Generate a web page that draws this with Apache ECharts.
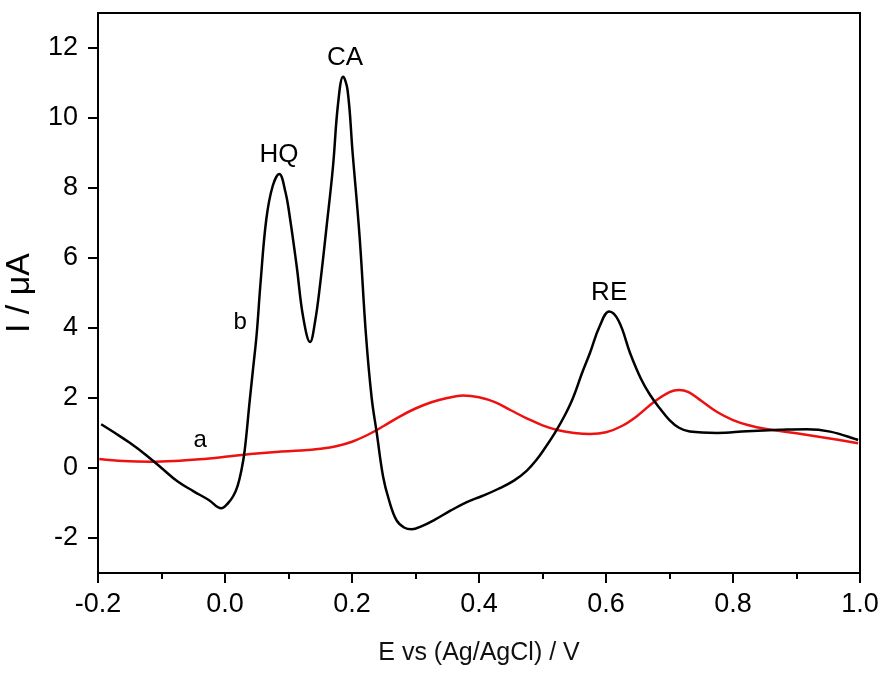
<!DOCTYPE html>
<html>
<head>
<meta charset="utf-8">
<title>DPV</title>
<script src="https://cdn.jsdelivr.net/npm/echarts@6/dist/echarts.min.js"></script>
<style>
  html, body { margin: 0; padding: 0; background: #fff; }
  #chart { width: 884px; height: 674px; }
</style>
</head>
<body>
<div id="chart"></div>
<script>
// curve b (black): E / V, I / uA
const curveB = [
  [-0.195, 1.25], [-0.175, 1.02], [-0.15, 0.72], [-0.125, 0.38], [-0.1, 0.0],
  [-0.075, -0.38], [-0.05, -0.66], [-0.025, -0.92], [-0.006, -1.15],
  [0.005, -1.0], [0.013, -0.8], [0.02, -0.5], [0.026, -0.05], [0.031, 0.5],
  [0.039, 1.94], [0.044, 2.8], [0.05, 3.85], [0.056, 5.3], [0.065, 7.1],
  [0.075, 8.05], [0.0855, 8.4], [0.095, 7.9], [0.102, 7.18], [0.113, 5.75],
  [0.123, 4.32], [0.134, 3.6], [0.142, 4.2], [0.15, 5.28], [0.16, 6.9],
  [0.17, 8.6], [0.178, 10.4], [0.186, 11.18], [0.193, 10.8], [0.201, 9.0],
  [0.212, 6.6], [0.222, 3.8], [0.231, 2.0], [0.239, 1.0], [0.249, -0.25],
  [0.258, -0.9], [0.27, -1.49], [0.282, -1.7], [0.294, -1.75], [0.31, -1.66],
  [0.33, -1.48], [0.355, -1.22], [0.38, -0.98], [0.405, -0.8], [0.43, -0.6],
  [0.455, -0.36], [0.475, -0.08], [0.49, 0.22], [0.505, 0.6],
  [0.52, 1.02], [0.535, 1.5], [0.548, 2.0], [0.562, 2.7], [0.575, 3.3],
  [0.59, 4.05], [0.605, 4.47], [0.62, 4.2], [0.638, 3.28], [0.655, 2.55],
  [0.669, 2.1], [0.684, 1.72], [0.7, 1.37], [0.715, 1.15], [0.732, 1.04],
  [0.775, 1.0], [0.822, 1.05], [0.874, 1.09], [0.916, 1.11], [0.953, 1.04],
  [0.997, 0.8]
]

// curve a (red)
const curveA = [
  [-0.198, 0.26], [-0.16, 0.2], [-0.118, 0.18], [-0.08, 0.2], [-0.04, 0.25],
  [0.0, 0.32], [0.04, 0.4], [0.08, 0.46], [0.12, 0.5], [0.15, 0.55],
  [0.175, 0.62], [0.2, 0.75], [0.225, 0.95], [0.25, 1.2], [0.275, 1.47],
  [0.3, 1.7], [0.325, 1.88], [0.35, 2.0], [0.375, 2.07], [0.4, 2.02],
  [0.425, 1.88], [0.45, 1.65], [0.475, 1.42], [0.5, 1.22], [0.525, 1.08],
  [0.55, 1.0], [0.575, 0.97], [0.6, 1.02], [0.625, 1.2], [0.65, 1.5],
  [0.675, 1.88], [0.7, 2.17], [0.715, 2.23], [0.73, 2.17], [0.75, 1.92],
  [0.775, 1.6], [0.8, 1.37], [0.825, 1.22], [0.85, 1.12], [0.9, 0.99],
  [0.95, 0.85], [0.997, 0.71]
]

// peak / curve labels
const noteText = ['HQ', 'CA', 'RE', 'b', 'a']
const noteX = [0.085, 0.189, 0.605, 0.024, -0.039]
const noteY = [8.94, 11.71, 5.0, 4.17, 0.8]

const yTicks = [-2, 0, 2, 4, 6, 8, 10, 12]

const FONT = "'Liberation Sans', Arial, sans-serif"

const chart = echarts.init(document.getElementById('chart'))

const notes = noteText.map((t, i) => ({
  name: t,
  value: [noteX[i], noteY[i]],
  label: { fontSize: i < 3 ? 26 : 24, color: '#000' }
}))

const option = {
  animation: false,
  grid: {
    left: 98,
    right: 24,
    top: 13,
    bottom: 101,
    outerBoundsMode: 'none',
    containLabel: false,
    show: true,
    borderColor: '#000',
    borderWidth: 2,
    backgroundColor: 'transparent'
  },
  xAxis: {
    type: 'value',
    min: -0.2,
    max: 1.0,
    interval: 0.2,
    name: 'E vs (Ag/AgCl) / V',
    nameLocation: 'middle',
    nameGap: 68,
    nameTextStyle: { fontFamily: FONT, fontSize: 25, color: '#111' },
    axisLine: { onZero: false, lineStyle: { color: '#000', width: 2 } },
    axisTick: { inside: false, length: 10, lineStyle: { color: '#000', width: 2 } },
    minorTick: { show: true, splitNumber: 2, length: 6, lineStyle: { color: '#000', width: 2 } },
    axisLabel: {
      margin: 18,
      fontFamily: FONT,
      fontSize: 27,
      color: '#000',
      formatter: v => v.toFixed(1)
    },
    splitLine: { show: false }
  },
  yAxis: {
    type: 'value',
    min: -3,
    max: 13,
    name: 'I / μA',
    nameLocation: 'middle',
    nameGap: 43,
    nameTextStyle: { fontFamily: FONT, fontSize: 34, color: '#000' },
    axisLine: { onZero: false, lineStyle: { color: '#000', width: 2 } },
    axisTick: { inside: false, length: 10, customValues: yTicks, lineStyle: { color: '#000', width: 2 } },
    axisLabel: {
      margin: 20,
      fontFamily: FONT,
      fontSize: 27,
      color: '#000',
      customValues: yTicks
    },
    splitLine: { show: false }
  },
  series: [
    {
      name: 'a',
      type: 'line',
      data: curveA,
      smooth: 0.4,
      symbol: 'none',
      lineStyle: { color: '#ee1111', width: 2.5 },
      z: 2
    },
    {
      name: 'b',
      type: 'line',
      data: curveB,
      smooth: 0.4,
      symbol: 'none',
      lineStyle: { color: '#000', width: 2.5 },
      z: 3
    },
    {
      name: 'notes',
      type: 'scatter',
      data: notes,
      symbolSize: 0,
      silent: true,
      itemStyle: { opacity: 1 },
      label: {
        show: true,
        position: 'inside',
        formatter: p => p.name,
        fontFamily: FONT,
        color: '#000',
        opacity: 1
      },
      z: 4
    }
  ]
}

chart.setOption(option)
</script>
</body>
</html>
